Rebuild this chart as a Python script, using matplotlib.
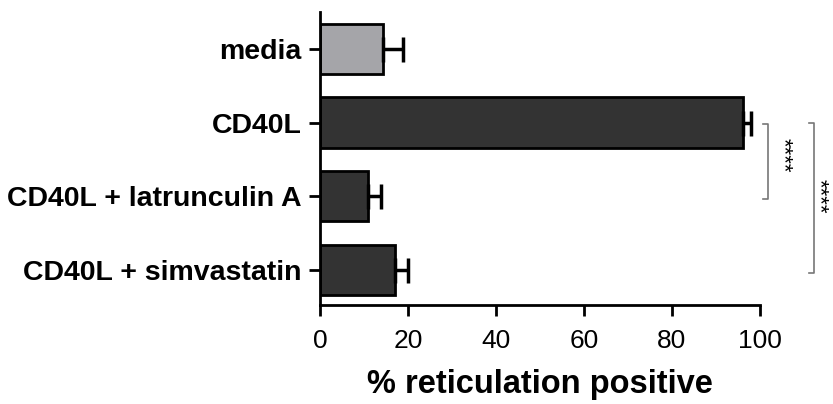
import matplotlib
matplotlib.use("Agg")
import matplotlib.pyplot as plt

plt.rcParams['font.family'] = ['Liberation Sans', 'DejaVu Sans']

conditions = ["media", "CD40L", "CD40L + latrunculin A", "CD40L + simvastatin"]
pct_positive = [14.4, 96.1, 11.0, 17.0]
sem = [4.4, 1.9, 3.0, 3.1]
bar_colors = ["#a5a5a9", "#333333", "#333333", "#333333"]
x_ticks = [0, 20, 40, 60, 80, 100]

fig = plt.figure(figsize=(8.33, 4.04), dpi=100)
ax = fig.add_axes([0.384, 0.245, 0.528, 0.725])

ypos = range(len(conditions))
ax.barh(ypos, pct_positive, height=0.68, color=bar_colors,
        edgecolor="black", linewidth=2, zorder=2)
ax.errorbar(pct_positive, ypos, xerr=[[0] * len(sem), sem], fmt="none",
            ecolor="black", elinewidth=2.5, capsize=9, capthick=2.5, zorder=3)

ax.set_xlim(0, 100)
ax.set_ylim(3.48, -0.5)
ax.set_xticks(x_ticks)
ax.set_yticks(list(ypos))
ax.set_yticklabels(conditions, fontsize=20.5, fontweight="bold")
ax.tick_params(axis="x", labelsize=19, length=8, width=2, pad=9)
ax.tick_params(axis="y", length=8, width=2, pad=5)
ax.set_xlabel("% reticulation positive", fontsize=23.5, fontweight="bold", labelpad=12)

for s in ["top", "right"]:
    ax.spines[s].set_visible(False)
for s in ["left", "bottom"]:
    ax.spines[s].set_linewidth(2)

# significance brackets
def bracket(x0, x1, y0, y1):
    ax.plot([x0, x1, x1, x0], [y0, y0, y1, y1], color="#777777", lw=1.2,
            clip_on=False, zorder=1)

bracket(100.7, 102.0, 1.02, 2.04)
ax.text(105.3, 1.45, "****", rotation=270, ha="center", va="center",
        fontsize=16, clip_on=False)
bracket(111.1, 112.3, 1.0, 3.05)
ax.text(113.6, 2.0, "****", rotation=270, ha="center", va="center",
        fontsize=16, clip_on=False)

fig.savefig("out.png", dpi=100)
